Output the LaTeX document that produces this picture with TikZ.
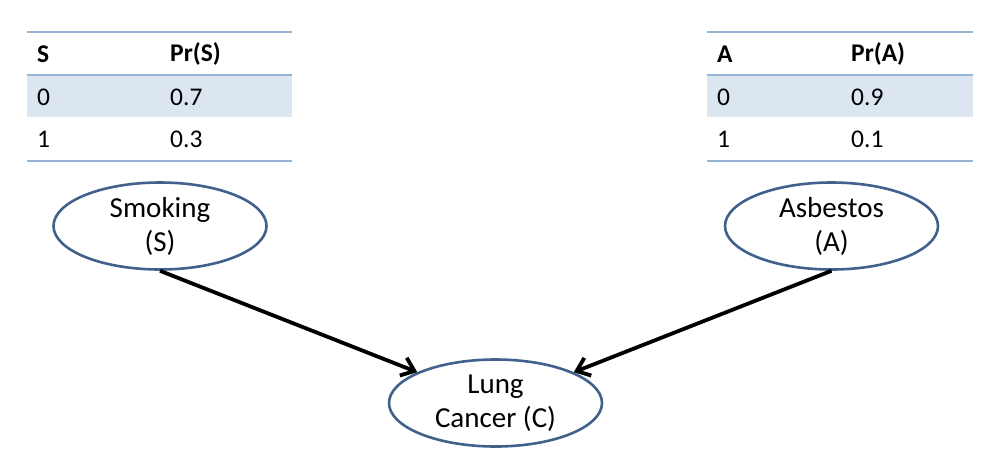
\documentclass[tikz,border=0pt]{standalone}
\usepackage{fontspec}
\setmainfont{Carlito}
\usetikzlibrary{shapes.geometric,arrows.meta}
\definecolor{rulecol}{HTML}{95B3D7}
\definecolor{rowshade}{HTML}{DCE6F1}
\definecolor{edgecol}{HTML}{41618C}
\tikzset{
  var/.style={ellipse,draw=edgecol,line width=2.6pt,minimum width=213pt,minimum height=87pt,inner sep=0pt,align=center,font=\fontsize{29}{34}\selectfont},
  cell/.style={anchor=west,inner sep=0pt,font=\fontsize{25.5}{30}\selectfont},
  hcell/.style={cell,font=\fontsize{25.5}{30}\selectfont\bfseries},
  tabline/.style={draw=rulecol,line width=2.6pt},
  link/.style={-{Straight Barb[length=12pt,width=19pt]},line width=3.8pt,black}
}
\begin{document}
\begin{tikzpicture}[x=1pt,y=-1pt]
\useasboundingbox (0,0) rectangle (992,466);
% left table
\fill[rowshade] (27,75) rectangle (292,117);
\draw[tabline] (27,32) -- (292,32);
\draw[tabline] (27,75) -- (292,75);
\draw[tabline] (27,161) -- (292,161);
\node[hcell] (sh1) at (37,54) {S};
\node[hcell] (sh2) at (170,54) {Pr(S)};
\node[cell] (s01) at (37,97) {0};
\node[cell] (s02) at (170,97) {0.7};
\node[cell] (s11) at (37,139) {1};
\node[cell] (s12) at (170,139) {0.3};
% right table
\fill[rowshade] (707,75) rectangle (973,117);
\draw[tabline] (707,32) -- (973,32);
\draw[tabline] (707,75) -- (973,75);
\draw[tabline] (707,161) -- (973,161);
\node[hcell] (ah1) at (717,54) {A};
\node[hcell] (ah2) at (851,54) {Pr(A)};
\node[cell] (a01) at (717,97) {0};
\node[cell] (a02) at (851,97) {0.9};
\node[cell] (a11) at (717,139) {1};
\node[cell] (a12) at (851,139) {0.1};
% nodes
\node[var] (smoke) at (160,226) {Smoking\\(S)};
\node[var] (asb) at (831.5,226) {Asbestos\\(A)};
\node[var] (lc) at (495.5,403) {Lung\\Cancer (C)};
\draw[link] (smoke.south) -- (lc);
\draw[link] (asb.south) -- (lc);
\end{tikzpicture}
\end{document}
